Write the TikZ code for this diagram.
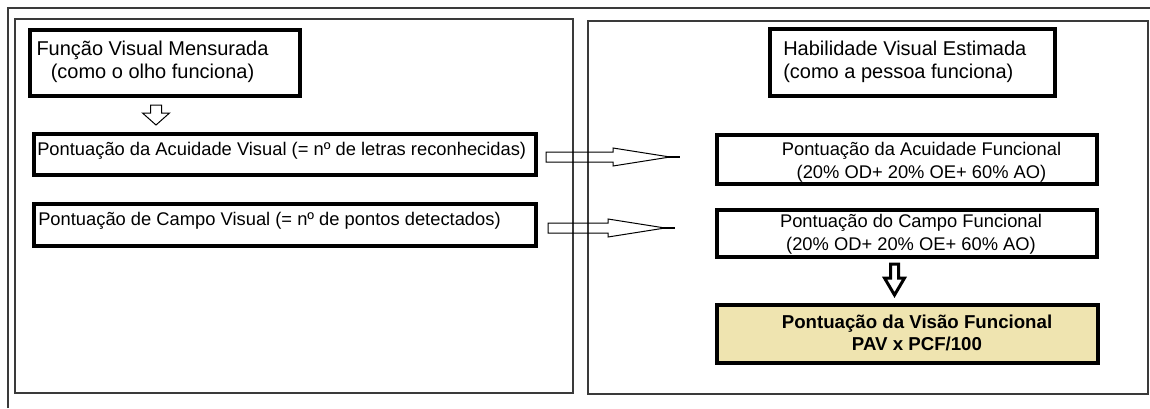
\documentclass[tikz,border=0pt]{standalone}
\usepackage{fontspec}
\setmainfont{Liberation Sans}
\usetikzlibrary{calc}
\definecolor{frameline}{HTML}{3A3A3A}
\definecolor{resultfill}{HTML}{EFE4B0}

\tikzset{
  box/.style={draw=black, line width=3pt, fill=white, rectangle, inner sep=0pt},
  resultbox/.style={box, fill=resultfill},
  panel/.style={draw=frameline, line width=1.2pt},
  bodytext/.style={inner sep=0pt, font=\fontsize{13.75}{17}\selectfont},
  headtext/.style={inner sep=0pt, font=\fontsize{15}{17.25}\selectfont},
  resulttext/.style={inner sep=0pt, font=\bfseries\fontsize{14}{16.5}\selectfont},
  hollowarrow/.style={draw=black, line width=0.75pt, line join=miter},
  boldarrow/.style={draw=black, line width=2.25pt, fill=white, line join=miter},
}

% long hollow arrow pointing right, from tail #1 to tip line end #2 (same height)
\newcommand{\hollowright}[2]{%
  \draw[hollowarrow] ($(#1)+(0,-5)$) -- ($(#2)+(-67,-5)$) -- ($(#2)+(-67,-9)$)
    -- ($(#2)+(-10,0)$) -- ($(#2)+(-67,9)$) -- ($(#2)+(-67,5)$) -- ($(#1)+(0,5)$) -- cycle;
  \draw[line width=1.5pt] ($(#2)+(-12,0)$) -- (#2);}

\begin{document}
\begin{tikzpicture}[x=0.75pt,y=-0.75pt]
\useasboundingbox (0,0) rectangle (1150,408);

% frame and the two panels
\draw[panel] (8,408) -- (8,8) -- (1150,8);
\draw[panel] (15,19) rectangle (573,393);
\draw[panel] (588,21) rectangle (1148,394);

% left column
\node[box, minimum width=202.5pt, minimum height=49.5pt] (fvm) at (165,63) {};
\node[headtext, align=center, anchor=base] (fvmtxt) at (152.5,78)
  {Função Visual Mensurada\\(como o olho funciona)};

\node[box, minimum width=376.5pt, minimum height=30.75pt] (pav) at (285,154.5) {};
\node[bodytext, anchor=base west] (pavtxt) at (37,155)
  {Pontuação da Acuidade Visual (= nº de letras reconhecidas)};

\node[box, minimum width=376.5pt, minimum height=31.5pt] (pcv) at (285,225) {};
\node[bodytext, anchor=base west] (pcvtxt) at (38,225)
  {Pontuação de Campo Visual (= nº de pontos detectados)};

% right column
\node[box, minimum width=213.75pt, minimum height=50.25pt] (hve) at (912.5,62.5) {};
\node[headtext, align=left, anchor=base west] (hvetxt) at (783,78)
  {Habilidade Visual Estimada\\(como a pessoa funciona)};

\node[box, minimum width=285pt, minimum height=36.75pt] (paf) at (907,159.5) {};
\node[bodytext, align=center, anchor=base] (paftxt) at (921.5,178)
  {Pontuação da Acuidade Funcional\\ (20\% OD+ 20\% OE+ 60\% AO)};

\node[box, minimum width=285pt, minimum height=35.25pt] (pcf) at (907,233.5) {};
\node[bodytext, align=center, anchor=base] (pcftxt) at (911,250)
  {Pontuação do Campo Funcional\\(20\% OD+ 20\% OE+ 60\% AO)};

\node[resultbox, minimum width=285.75pt, minimum height=43.5pt] (pvf) at (907.5,334) {};
\node[resulttext, align=center, anchor=base] (pvftxt) at (917,350)
  {Pontuação da Visão Funcional\\PAV x PCF/100};

% small hollow arrow down in the left column
\coordinate (d1s) at ($(fvm.south)+(-9,7)$);
\coordinate (d1e) at ($(d1s |- pav.north)+(0,-7)$);
\draw[hollowarrow, fill=white] ($(d1s)+(-5.5,0)$) -- ($(d1e)+(-5.5,-12)$) -- ($(d1e)+(-13.5,-12)$)
  -- (d1e) -- ($(d1e)+(13.5,-12)$) -- ($(d1e)+(5.5,-12)$) -- ($(d1s)+(5.5,0)$) -- cycle;

% arrows across the panels
\coordinate (a1s) at ($(pav.east)+(8,2.5)$);
\coordinate (a1e) at ($(a1s -| paf.west)+(-35,0)$);
\hollowright{a1s}{a1e}
\coordinate (a2s) at ($(pcv.east)+(10,3)$);
\coordinate (a2e) at ($(a2s -| pcf.west)+(-40,0)$);
\hollowright{a2s}{a2e}

% bold arrow down to the result
\coordinate (b1s) at ($(pcf.south)+(-12.5,5)$);
\coordinate (b1e) at ($(b1s |- pvf.north)+(0,-8)$);
\draw[boldarrow] ($(b1s)+(-4,0)$) -- ($(b1e)+(-4,-17)$) -- ($(b1e)+(-10,-17)$)
  -- (b1e) -- ($(b1e)+(10,-17)$) -- ($(b1e)+(4,-17)$) -- ($(b1s)+(4,0)$) -- cycle;
\end{tikzpicture}
\end{document}
